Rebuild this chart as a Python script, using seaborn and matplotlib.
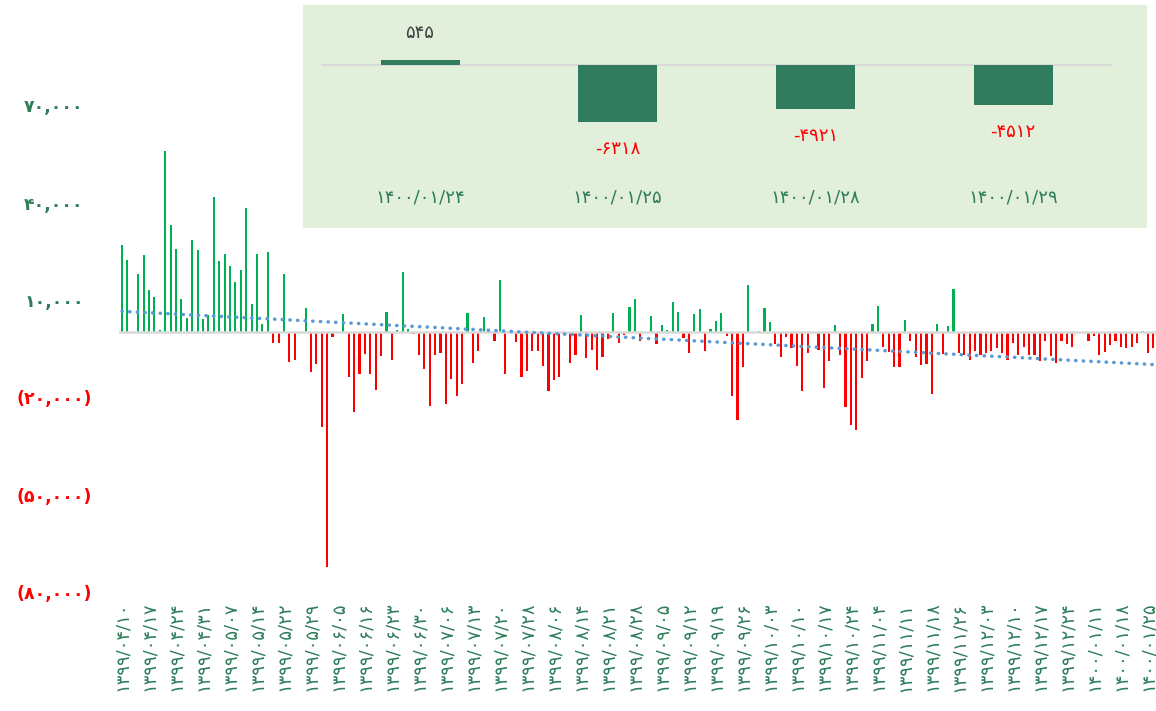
import numpy as np
import pandas as pd
import matplotlib
matplotlib.use('Agg')
import matplotlib.pyplot as plt
import seaborn as sns

# daily net values, one per trading day (1399/04/10 .. 1400/01/29)
net_values = [
    27100, 22300, 200, 18000, 23900, 13200, 10800, 900, 55900, 33000,
    25800, 10400, 4500, 28600, 25400, 4100, 5300, 41700, 21900, 24300,
    20400, 15600, 19100, 38500, 8700, 24300, 2500, 24700, -3100, -3100,
    17900, -9100, -8600, 150, 7600, -12200, -9800, -29200, -72200, -1500,
    -300, 5600, -13800, -24500, -12900, -6600, -12900, -17800, -7300, 6400,
    -8400, 800, 18700, 1200, -600, -6800, -11200, -22600, -6800, -6400,
    -22200, -14400, -19500, -15900, 6000, -9300, -5700, 4700, 100, -2600,
    16300, -12800, 600, -3000, -13600, -11900, -5700, -5700, -10400, -17900,
    -14800, -13600, -600, -9300, -6800, 5500, -8000, -5300, -11500, -7600,
    -2100, 6000, -3300, -700, 7900, 10300, -2600, -100, 5100, -3700,
    2400, 800, 9500, 6400, -1700, -6200, 5600, 7200, -5800, 1200,
    3600, 6000, -1000, -19500, -27000, -10500, 14700, 100, 400, 7600,
    3300, -3500, -7600, -1300, -4800, -10400, -17900, -6200, -100, -5300,
    -17200, -8800, 2300, -6800, -23100, -28600, -30200, -14000, -8800, 2700,
    8200, -4500, -6100, -10800, -10500, 3900, -2700, -7600, -10000, -9700,
    -19100, 2700, -6700, 2000, 13400, -6200, -6800, -8400, -5800, -6800,
    -6400, -5800, -4900, -6200, -8400, -3300, -6800, -4500, -7100, -6800,
    -8800, -2500, -7200, -9300, -2500, -3600, -4500, 100, -100, -2500,
    -1200, -6800, -6100, -4000, -2700, -4500, -4900, -4500, -3300, 545,
    -6318, -4921, -4512,
]

# a date label on every fifth trading day
date_labels = [
    '۱۳۹۹/۰۴/۱۰', '۱۳۹۹/۰۴/۱۷', '۱۳۹۹/۰۴/۲۴', '۱۳۹۹/۰۴/۳۱', '۱۳۹۹/۰۵/۰۷',
    '۱۳۹۹/۰۵/۱۴', '۱۳۹۹/۰۵/۲۲', '۱۳۹۹/۰۵/۲۹', '۱۳۹۹/۰۶/۰۵', '۱۳۹۹/۰۶/۱۶',
    '۱۳۹۹/۰۶/۲۳', '۱۳۹۹/۰۶/۳۰', '۱۳۹۹/۰۷/۰۶', '۱۳۹۹/۰۷/۱۳', '۱۳۹۹/۰۷/۲۰',
    '۱۳۹۹/۰۷/۲۸', '۱۳۹۹/۰۸/۰۶', '۱۳۹۹/۰۸/۱۴', '۱۳۹۹/۰۸/۲۱', '۱۳۹۹/۰۸/۲۸',
    '۱۳۹۹/۰۹/۰۵', '۱۳۹۹/۰۹/۱۲', '۱۳۹۹/۰۹/۱۹', '۱۳۹۹/۰۹/۲۶', '۱۳۹۹/۱۰/۰۳',
    '۱۳۹۹/۱۰/۱۰', '۱۳۹۹/۱۰/۱۷', '۱۳۹۹/۱۰/۲۴', '۱۳۹۹/۱۱/۰۴', '۱۳۹۹/۱۱/۱۱',
    '۱۳۹۹/۱۱/۱۸', '۱۳۹۹/۱۱/۲۶', '۱۳۹۹/۱۲/۰۳', '۱۳۹۹/۱۲/۱۰', '۱۳۹۹/۱۲/۱۷',
    '۱۳۹۹/۱۲/۲۴', '۱۴۰۰/۰۱/۱۱', '۱۴۰۰/۰۱/۱۸', '۱۴۰۰/۰۱/۲۵',
]

ytick_values = [70000, 40000, 10000, -20000, -50000, -80000]
ytick_labels = ['۷۰,۰۰۰', '۴۰,۰۰۰', '۱۰,۰۰۰', '(۲۰,۰۰۰)', '(۵۰,۰۰۰)', '(۸۰,۰۰۰)']

# last four days, shown in the box
last_days = ['۱۴۰۰/۰۱/۲۴', '۱۴۰۰/۰۱/۲۵', '۱۴۰۰/۰۱/۲۸', '۱۴۰۰/۰۱/۲۹']
last_values = [545, -6318, -4921, -4512]
last_value_labels = ['۵۴۵', '-۶۳۱۸', '-۴۹۲۱', '-۴۵۱۲']

GREEN = '#00B050'
RED = '#FF0000'
TEXT_GREEN = '#2E7D5B'

sns.set_style('white')
plt.rcParams['font.family'] = ['DejaVu Sans']

df = pd.DataFrame({'day': range(len(net_values)), 'value': net_values})
df['sign'] = np.where(df['value'] >= 0, 'pos', 'neg')

W, H = 1156, 711
fig = plt.figure(figsize=(W / 100, H / 100), dpi=100)
ax = fig.add_axes([119.3 / W, 119 / H, 1 - 119.3 / W, 584 / H])

sns.barplot(data=df, x='day', y='value', hue='sign',
            palette={'pos': GREEN, 'neg': RED}, dodge=False, width=0.4,
            saturation=1, errorbar=None, legend=False, linewidth=0,
            edgecolor='none', ax=ax)
ax.axhline(0, color='#D9D9D9', lw=1.8, zorder=2.5)
sns.regplot(data=df, x='day', y='value', scatter=False, ci=None, ax=ax,
            line_kws=dict(color='#5B9BD5', lw=2.5, ls=(0, (0.1, 2.1)),
                          dash_capstyle='round', zorder=3))

ax.set_xlim(-0.5, 191.5)
ax.set_ylim(-80000, 100000)
ax.set_xlabel('')
ax.set_ylabel('')

ax.set_xticks(list(range(0, 5 * len(date_labels), 5)))
ax.set_xticklabels(date_labels, rotation=90, color=TEXT_GREEN, fontsize=13)
ax.tick_params(axis='x', length=0, pad=7)

ax.set_yticks(ytick_values)
ax.set_yticklabels(ytick_labels, fontsize=12.5, fontweight='bold', ha='center')
ax.tick_params(axis='y', length=0, pad=47)
for lbl, v in zip(ax.get_yticklabels(), ytick_values):
    lbl.set_color(TEXT_GREEN if v > 0 else RED)

for s in ax.spines.values():
    s.set_visible(False)

# inset box with the last four days
ins = fig.add_axes([303 / W, (H - 228) / H, 844 / W, 223 / H])
ins.set_facecolor('#E2EFDA')
ins_df = pd.DataFrame({'day': last_days, 'value': last_values})
sns.barplot(data=ins_df, x='day', y='value', color='#317B5F', saturation=1,
            width=0.4, errorbar=None, linewidth=0, edgecolor='none', ax=ins)
ins.hlines(0, -0.5, 3.5, color='#D9D9D9', lw=1.5, zorder=0.5)
ins.set_xlim(-0.592, 3.677)
ins.set_ylim(-18210, 6700)

for j, (v, s) in enumerate(zip(last_values, last_value_labels)):
    off = 19.5 if v > 0 else -19.5
    ins.annotate(s, (j, v), xytext=(0, off), textcoords='offset points',
                 ha='center', va='center', fontsize=13,
                 color='#404040' if v > 0 else RED)
    ins.text(j, 0.139, last_days[j], transform=ins.get_xaxis_transform(),
             ha='center', va='center', fontsize=13, color=TEXT_GREEN)

ins.set_xticks([])
ins.set_yticks([])
ins.set_xlabel('')
ins.set_ylabel('')
for s in ins.spines.values():
    s.set_visible(False)

fig.savefig('out.png', dpi=100)
